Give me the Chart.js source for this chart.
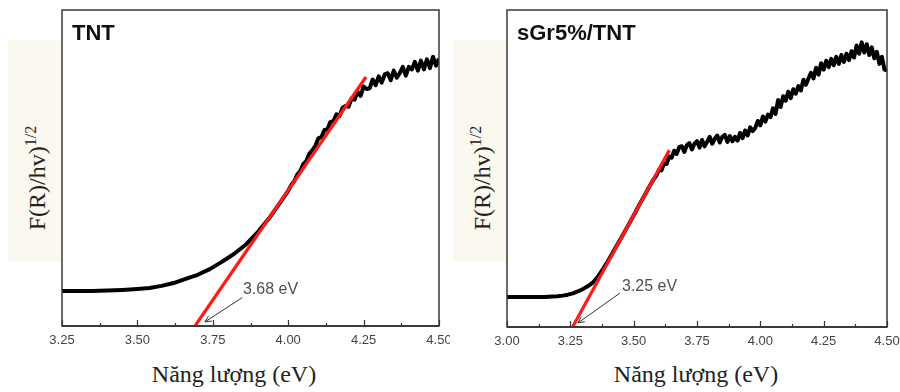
<!DOCTYPE html>
<html>
<head>
<meta charset="utf-8">
<script src="https://cdn.jsdelivr.net/npm/chart.js@4.4.1/dist/chart.umd.min.js"></script>
<style>
  html,body{margin:0;padding:0;background:#fff;}
  #wrap{position:relative;width:900px;height:392px;overflow:hidden;}
  canvas{position:absolute;top:0;}
  .band{position:absolute;top:40px;height:222px;background:#FBF9EF;}
  .ylab{position:absolute;transform:translate(-50%,-50%) rotate(-90deg);white-space:nowrap;
        font-family:"Liberation Serif","Times New Roman",serif;font-size:24px;color:#222;}
  .ylab span{font-size:16px;position:relative;top:-9px;}
  .xlab{position:absolute;transform:translateX(-50%);white-space:nowrap;top:362px;
        font-family:"Liberation Serif","Times New Roman",serif;font-size:24px;color:#222;line-height:24px;}
</style>
</head>
<body>
<div id="wrap">
  <div class="band" style="left:8px;width:54px"></div>
  <div class="band" style="left:453px;width:53px"></div>
  <div class="ylab" style="left:37px;top:178px">F(R)/hv)<span>1/2</span></div>
  <div class="ylab" style="left:482px;top:178px">F(R)/hv)<span>1/2</span></div>
  <div class="xlab" style="left:234px">Năng lượng (eV)</div>
  <div class="xlab" style="left:696px">Năng lượng (eV)</div>
  <canvas id="cTnt" width="450" height="392" style="left:0"></canvas>
  <canvas id="cSgr" width="450" height="392" style="left:450px"></canvas>
</div>
<script>
// ---- TNT panel ----
const tntTicks = [3.25, 3.50, 3.75, 4.00, 4.25, 4.50];
const tntE = [3.25,3.30,3.35,3.40,3.45,3.50,3.54,3.58,3.62,3.66,3.70,3.74,3.78,3.82,3.86,3.90,3.94,3.98,
  4.00,4.01,4.02,4.03,4.04,4.05,4.06,4.07,4.08,4.09,4.10,4.11,4.12,4.13,4.14,4.15,4.16,4.17,4.18,4.19,
  4.20,4.21,4.22,4.23,4.24,4.25,4.26,4.27,4.28,4.29,4.30,4.31,4.32,4.33,4.34,4.35,4.36,4.37,4.38,4.39,
  4.40,4.41,4.42,4.43,4.44,4.45,4.46,4.47,4.48,4.49,4.50];
const tntF = [0.111,0.111,0.111,0.112,0.114,0.117,0.120,0.127,0.136,0.149,0.162,0.180,0.203,0.228,0.258,0.298,0.345,0.400,
  0.428,0.446,0.458,0.479,0.490,0.512,0.522,0.545,0.556,0.570,0.594,0.598,0.620,0.622,0.646,0.648,0.670,0.664,0.690,0.696,
  0.694,0.720,0.716,0.742,0.728,0.758,0.750,0.752,0.780,0.762,0.790,0.770,0.796,0.800,0.778,0.808,0.786,0.800,0.820,0.792,
  0.820,0.812,0.836,0.808,0.840,0.812,0.844,0.816,0.852,0.824,0.846];
const tntFitE = [3.691, 4.258];
const tntFitF = [0.0, 0.788];
const tntGap = '3.68 eV';

// ---- sGr5%/TNT panel ----
const sgrTicks = [3.00, 3.25, 3.50, 3.75, 4.00, 4.25, 4.50];
const sgrE = [3.00,3.05,3.10,3.15,3.18,3.20,3.22,3.24,3.26,3.28,3.30,3.32,3.34,3.36,3.38,3.40,3.42,3.45,3.48,3.50,3.52,3.55,
  3.56,3.57,3.58,3.59,3.60,3.61,3.62,3.63,3.64,3.65,3.66,3.67,3.68,3.69,3.70,3.71,3.72,3.73,3.74,3.75,3.76,3.77,3.78,3.79,
  3.80,3.81,3.82,3.83,3.84,3.85,3.86,3.87,3.88,3.89,3.90,3.91,3.92,3.93,3.94,3.95,3.96,3.97,3.98,3.99,
  4.00,4.01,4.02,4.03,4.04,4.05,4.06,4.07,4.08,4.09,4.10,4.11,4.12,4.13,4.14,4.15,4.16,4.17,4.18,4.19,
  4.20,4.21,4.22,4.23,4.24,4.25,4.26,4.27,4.28,4.29,4.30,4.31,4.32,4.33,4.34,4.35,4.36,4.37,4.38,4.39,
  4.40,4.41,4.42,4.43,4.44,4.45,4.46,4.47,4.48,4.49,4.50];
const sgrF = [0.095,0.095,0.095,0.095,0.096,0.097,0.099,0.102,0.106,0.112,0.120,0.129,0.141,0.160,0.184,0.210,0.238,0.280,0.323,0.352,0.382,0.425,
  0.440,0.454,0.468,0.478,0.496,0.494,0.516,0.514,0.538,0.534,0.556,0.546,0.568,0.570,0.552,0.574,0.580,0.560,0.578,0.586,0.566,0.590,0.570,0.584,
  0.600,0.578,0.594,0.604,0.582,0.600,0.606,0.584,0.602,0.586,0.600,0.588,0.612,0.596,0.620,0.604,0.630,0.618,0.628,0.650,
  0.636,0.664,0.648,0.670,0.662,0.690,0.672,0.716,0.694,0.728,0.714,0.742,0.722,0.750,0.736,0.760,0.746,0.780,0.764,0.784,
  0.802,0.784,0.818,0.796,0.832,0.812,0.840,0.820,0.846,0.826,0.852,0.830,0.858,0.836,0.862,0.842,0.870,0.850,0.888,0.862,
  0.898,0.866,0.892,0.858,0.882,0.848,0.868,0.830,0.852,0.812,0.810];
const sgrFitE = [3.259, 3.641];
const sgrFitF = [0.0, 0.558];
const sgrGap = '3.25 eV';

const pts = (xs, ys) => xs.map((x, i) => ({x, y: ys[i]}));

// frame, inside ticks, panel title and gap annotation
const panelPlugin = {
  id: 'panel',
  afterDatasetsDraw(chart, args, o) {
    const {ctx, chartArea: a, scales: {x, y}} = chart;
    ctx.save();
    // ticks (major + minor), inside the box
    ctx.strokeStyle = '#333'; ctx.lineWidth = 1.2;
    const tv = x.ticks.map(t => t.value);
    tv.forEach((v, i) => {
      const px = Math.round(x.getPixelForValue(v)) + 0.5;
      ctx.beginPath(); ctx.moveTo(px, a.bottom); ctx.lineTo(px, a.bottom - 6); ctx.stroke();
      if (i < tv.length - 1) {
        const mx = Math.round(x.getPixelForValue((v + tv[i + 1]) / 2)) + 0.5;
        ctx.beginPath(); ctx.moveTo(mx, a.bottom); ctx.lineTo(mx, a.bottom - 3); ctx.stroke();
      }
    });
    // frame
    ctx.strokeStyle = '#3a3a3a'; ctx.lineWidth = 1.5;
    ctx.strokeRect(a.left, a.top, a.right - a.left, a.bottom - a.top);
    ctx.lineWidth = 2;
    ctx.beginPath(); ctx.moveTo(a.left, a.bottom); ctx.lineTo(a.right, a.bottom); ctx.stroke();
    // title
    ctx.fillStyle = '#111';
    ctx.font = 'bold 22px "Liberation Sans", Arial, sans-serif';
    ctx.textBaseline = 'alphabetic';
    ctx.fillText(o.title, a.left + 10, a.top + 30);
    // annotation
    const n = o.note;
    const tx = x.getPixelForValue(n.tx), ty = y.getPixelForValue(n.ty);
    ctx.fillStyle = '#4e4e5a';
    ctx.font = '16px "Liberation Sans", Arial, sans-serif';
    ctx.textBaseline = 'middle';
    ctx.fillText(n.text, tx, ty);
    const ax = x.getPixelForValue(n.ax), ay = y.getPixelForValue(n.ay);
    const bx = x.getPixelForValue(n.bx), by = y.getPixelForValue(n.by);
    ctx.strokeStyle = '#333'; ctx.lineWidth = 1;
    ctx.beginPath(); ctx.moveTo(ax, ay); ctx.lineTo(bx, by); ctx.stroke();
    const ang = Math.atan2(by - ay, bx - ax);
    ctx.beginPath();
    ctx.moveTo(bx - 7 * Math.cos(ang - 0.45), by - 7 * Math.sin(ang - 0.45));
    ctx.lineTo(bx, by);
    ctx.lineTo(bx - 7 * Math.cos(ang + 0.45), by - 7 * Math.sin(ang + 0.45));
    ctx.stroke();
    ctx.restore();
  }
};

function panel(id, data, fit, ticks, pad, title, note) {
  return new Chart(document.getElementById(id), {
    type: 'line',
    data: {datasets: [
      {data: fit, borderColor: '#ff1a1a', borderWidth: 3.2, pointRadius: 0, order: 0},
      {data: data, borderColor: '#000', borderWidth: 4, borderJoinStyle: 'round', pointRadius: 0, tension: 0, order: 1}
    ]},
    options: {
      responsive: false, animation: false, events: [],
      layout: {padding: pad},
      plugins: {legend: {display: false}, tooltip: {enabled: false}, panel: {title, note}},
      scales: {
        x: {type: 'linear', min: ticks[0], max: ticks[ticks.length - 1],
          grid: {display: false, drawTicks: false}, border: {display: false},
          afterBuildTicks: s => { s.ticks = ticks.map(v => ({value: v})); },
          afterFit: s => { s.paddingLeft = 0; s.paddingRight = 0; s.height = 24; },
          ticks: {padding: 7, color: '#444', maxRotation: 0, autoSkip: false,
            font: {family: '"Liberation Sans", Arial, sans-serif', size: 13},
            callback: v => v.toFixed(2)}},
        y: {display: false, min: 0, max: 1}
      }
    },
    plugins: [panelPlugin]
  });
}

panel('cTnt', pts(tntE, tntF), pts(tntFitE, tntFitF), tntTicks,
  {left: 62, right: 11, top: 10, bottom: 42}, 'TNT',
  {text: tntGap, tx: 3.850, ty: 0.114, ax: 3.848, ay: 0.090, bx: 3.724, by: 0.013});
panel('cSgr', pts(sgrE, sgrF), pts(sgrFitE, sgrFitF), sgrTicks,
  {left: 57, right: 13, top: 10, bottom: 41}, 'sGr5%/TNT',
  {text: sgrGap, tx: 3.454, ty: 0.126, ax: 3.446, ay: 0.107, bx: 3.280, by: 0.013});
</script>
</body>
</html>
